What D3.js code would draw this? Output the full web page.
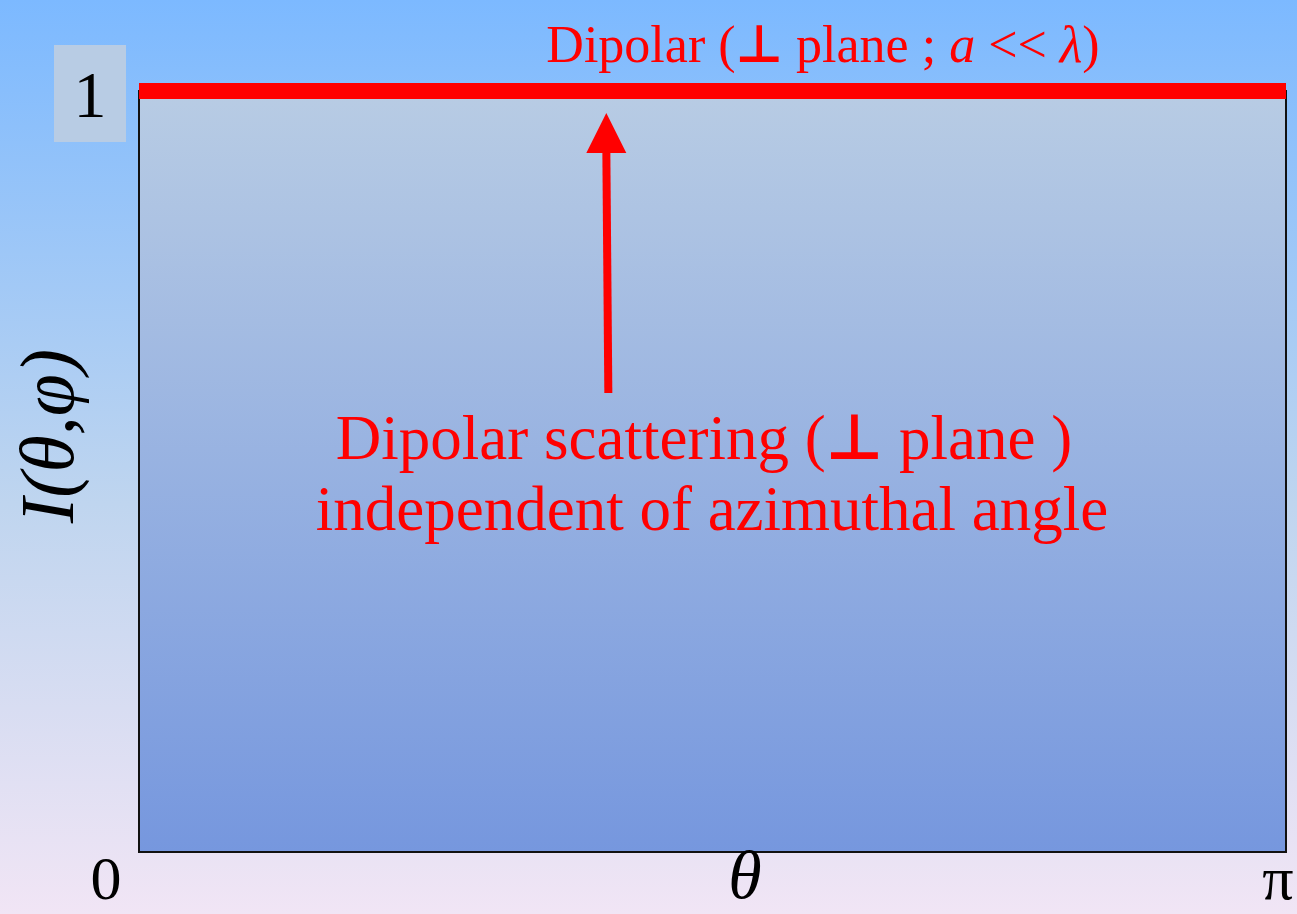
<!DOCTYPE html>
<html lang="en">
<head>
  <meta charset="utf-8">
  <title>Dipolar scattering</title>
  <script src="https://d3js.org/d3.v7.min.js"></script>
  <style type="text/css">
    body { margin: 0; overflow: hidden; }
    text { font-family: "Liberation Serif", "Times New Roman", serif; }
  </style>
</head>
<body>
  <script type="text/javascript">

// data: scattered intensity vs polar angle (constant for the perpendicular plane)
const thetaValues = [0, 3.14159];
const intensityValues = [1, 1];
const xTickLabels = ["0", "π"];
const yTickLabels = ["1"];

const svgWidth = 1297;
const svgHeight = 914;

const svg = d3.select("body")
    .append("svg")
    .attr("width", svgWidth)
    .attr("height", svgHeight);

const defs = svg.append("defs");

const bgGrad = defs.append("linearGradient")
    .attr("id", "bgGrad")
    .attr("x1", 0).attr("y1", 0).attr("x2", 0).attr("y2", 1);
bgGrad.append("stop").attr("offset", "0%").attr("stop-color", "#7cb9ff");
bgGrad.append("stop").attr("offset", "55%").attr("stop-color", "#bfd5ef");
bgGrad.append("stop").attr("offset", "100%").attr("stop-color", "#f1e5f5");

const plotGrad = defs.append("linearGradient")
    .attr("id", "plotGrad")
    .attr("x1", 0).attr("y1", 0).attr("x2", 0).attr("y2", 1);
plotGrad.append("stop").attr("offset", "0%").attr("stop-color", "#b8cce4");
plotGrad.append("stop").attr("offset", "100%").attr("stop-color", "#7697de");

svg.append("rect")
    .attr("width", svgWidth)
    .attr("height", svgHeight)
    .attr("fill", "url(#bgGrad)");

const xScale = d3.scaleLinear()
    .domain([0, 3.14159])
    .range([139, 1286]);

const yScale = d3.scaleLinear()
    .domain([0, 1])
    .range([852, 91]);

// plot frame
svg.append("rect")
    .attr("x", xScale(0))
    .attr("y", yScale(1))
    .attr("width", xScale(3.14159) - xScale(0))
    .attr("height", yScale(0) - yScale(1))
    .attr("fill", "url(#plotGrad)")
    .attr("stroke", "#111")
    .attr("stroke-width", 2);

// y tick label box
svg.append("rect")
    .attr("x", 54)
    .attr("y", 45)
    .attr("width", 72)
    .attr("height", 97)
    .attr("fill", "#b8cce4");

svg.selectAll("text.y-tick")
    .data(yTickLabels)
    .enter()
    .append("text")
    .attr("class", "y-tick")
    .attr("x", 90)
    .attr("y", (d, i) => yScale(1) + 26)
    .attr("text-anchor", "middle")
    .style("font-size", "66px")
    .text(d => d);

svg.selectAll("text.x-tick")
    .data(xTickLabels)
    .enter()
    .append("text")
    .attr("class", "x-tick")
    .attr("x", (d, i) => i === 0 ? xScale(thetaValues[0]) - 33 : xScale(thetaValues[1]) - 8)
    .attr("y", 899)
    .attr("text-anchor", "middle")
    .style("font-size", "62px")
    .text(d => d);

// the intensity line
const line = d3.line()
    .x((d, i) => xScale(thetaValues[i]))
    .y(d => yScale(d));

svg.append("path")
    .datum(intensityValues)
    .attr("d", line)
    .attr("fill", "none")
    .attr("stroke", "#ff0000")
    .attr("stroke-width", 16);

// axis labels
svg.append("text")
    .attr("x", 745)
    .attr("y", 898)
    .attr("text-anchor", "middle")
    .style("font-size", "68px")
    .style("font-style", "italic")
    .text("θ");

svg.append("text")
    .attr("text-anchor", "middle")
    .attr("transform", "translate(73, 436) rotate(-90)")
    .style("font-size", "76px")
    .style("font-style", "italic")
    .text("I(θ,φ)");

// annotations
const topLabel = svg.append("text")
    .attr("x", 823)
    .attr("y", 62)
    .attr("text-anchor", "middle")
    .attr("fill", "#ff0000")
    .style("font-size", "52px");
topLabel.append("tspan").text("Dipolar (");
topLabel.append("tspan").style("font-family", "DejaVu Sans").style("font-weight", "bold").text("⊥");
topLabel.append("tspan").text(" plane ; ");
topLabel.append("tspan").style("font-style", "italic").text("a");
topLabel.append("tspan").text(" << ");
topLabel.append("tspan").style("font-style", "italic").text("λ");
topLabel.append("tspan").text(")");

const note = svg.append("text")
    .attr("text-anchor", "middle")
    .attr("fill", "#ff0000")
    .style("font-size", "63px");
const l1 = note.append("tspan").attr("x", 704).attr("y", 459);
l1.append("tspan").text("Dipolar scattering (");
l1.append("tspan").style("font-family", "DejaVu Sans").style("font-weight", "bold").text("⊥");
l1.append("tspan").text(" plane )");
note.append("tspan").attr("x", 712).attr("y", 530).text("independent of azimuthal angle");

// arrow pointing at the line
const arrowX = xScale(1.28);
svg.append("line")
    .attr("x1", arrowX + 2)
    .attr("y1", 393)
    .attr("x2", arrowX)
    .attr("y2", 150)
    .attr("stroke", "#ff0000")
    .attr("stroke-width", 8);

svg.append("path")
    .attr("d", `M${arrowX - 20},153 L${arrowX},113 L${arrowX + 20},153 Z`)
    .attr("fill", "#ff0000");

  </script>
</body>
</html>
